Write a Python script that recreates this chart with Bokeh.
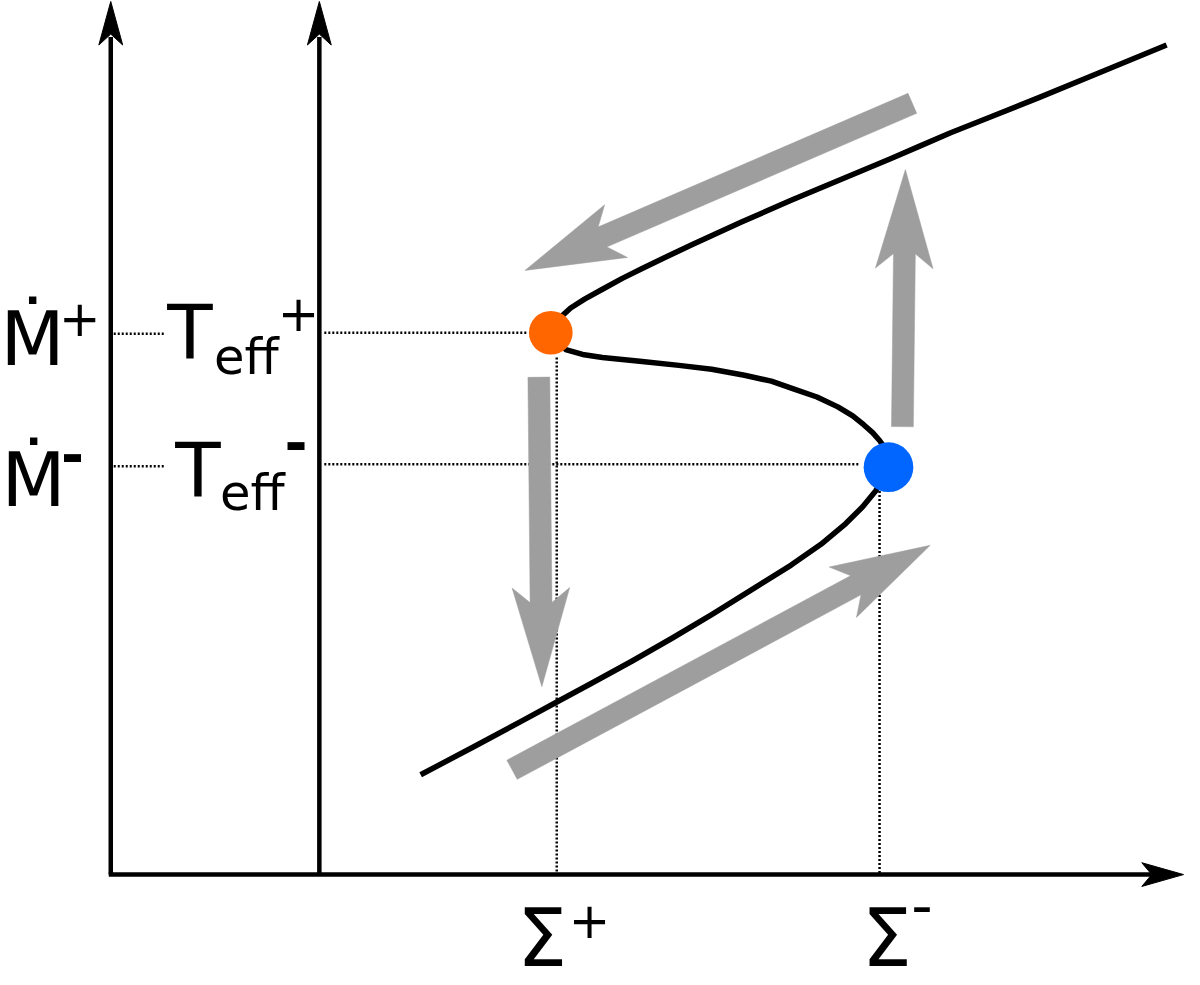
import numpy as np
from bokeh.plotting import figure
from bokeh.models import Range1d
from bokeh.core.properties import value
from bokeh.embed import file_html
from bokeh.resources import INLINE

# ---------------- data (schematic units; 1 unit = 1 px of the reference) -------------
# S-curve (thermal equilibrium curve), from lower-left end to upper-right end
curve_x = [427, 480, 530, 565, 600, 640, 680, 720, 760, 800, 830, 855, 872, 885, 893, 897, 898,
           897, 894, 889, 882, 873, 862, 847, 826, 803, 780, 753, 720, 687, 650, 610, 590, 573, 558,
           566, 578, 592, 610, 630, 650, 675, 700, 750, 800, 850, 900, 930, 960, 1005, 1050, 1120, 1178]
curve_y = [787, 759, 732, 713, 694, 672, 649, 625, 600, 575, 554, 533, 516, 500, 487, 478, 470,
           463, 456, 449, 441, 433, 424, 415, 405, 397, 389, 383, 377, 373, 369, 365, 362, 357, 340,
           326, 315, 306, 296, 285, 275, 263, 251, 228, 206, 185, 164, 151, 138, 120, 102, 73, 49]

# critical points (upper: orange, lower: blue)
crit_x = [558, 898]
crit_y = [340, 476]
crit_r = [22, 25]
crit_color = ["#ff6600", "#0066ff"]

# grey transition arrows: tail -> tip
arr_tail_x = [546, 912, 922, 519]
arr_tail_y = [385, 435, 108, 782]
arr_tip_x = [549, 915, 532, 940]
arr_tip_y = [698, 175, 277, 555]

# axes: two vertical axes (M-dot and T_eff) and the Sigma axis
vaxis_x = [115, 325]
axis_bottom = 888
axis_top = 5
haxis_left = 115
haxis_right = 1195

# dotted guide lines
guide_x0 = [118, 330, 118, 330, 564, 889]
guide_x1 = [170, 535, 170, 868, 564, 889]
guide_y0 = [341, 340, 475, 473, 365, 500]
guide_y1 = [341, 340, 475, 473, 888, 888]

# label texts: (x, baseline y, text, size, bold)
labels = [
    (4, 370, "\u1E40", 75, False),
    (63, 341, "+", 50, False),
    (5, 513, "\u1E40", 75, False),
    (65, 480, "-", 56, True),
    (172, 363, "T", 75, False),
    (219, 380, "eff", 50, False),
    (283, 336, "+", 50, False),
    (180, 503, "T", 75, False),
    (225, 518, "eff", 50, False),
    (290, 468, "-", 56, True),
    (524, 977, "\u03A3", 80, False),
    (576, 949, "+", 50, False),
    (871, 977, "\u03A3", 80, False),
    (921, 937, "-", 60, False),
]

# ---------------- figure ----------------
X0, X1 = 4, 1196
Y0, Y1 = 4, 984
W, H = 1184, 969
S = 0.5 * (W / (X1 - X0) + H / (Y1 - Y0))  # px per schematic unit
p = figure(width=W, height=H, output_backend="svg", toolbar_location=None,
           x_range=Range1d(X0, X1), y_range=Range1d(Y1, Y0),
           min_border=0)
p.axis.visible = False
p.grid.visible = False
p.outline_line_color = None
p.background_fill_color = "white"
p.border_fill_color = "white"

# axes lines
for xv in vaxis_x:
    p.line([xv, xv], [axis_bottom, axis_top + 36], line_color="black", line_width=4.5)
p.line([haxis_left - 2, haxis_right - 32], [axis_bottom, axis_bottom], line_color="black", line_width=4.5)

# axes arrowheads
hx, hy = [], []
for xv in vaxis_x:
    tip = axis_top
    hx.append([xv, xv + 12, xv, xv - 12])
    hy.append([tip, tip + 44, tip + 33, tip + 44])
tipx = haxis_right
hx.append([tipx, tipx - 42, tipx - 32, tipx - 42])
hy.append([axis_bottom, axis_bottom - 12, axis_bottom, axis_bottom + 12])
p.patches(hx, hy, fill_color="black", line_color="black", line_width=1)

# dotted guides
p.segment(guide_x0, guide_y0, guide_x1, guide_y1, line_color="black",
          line_width=2.5, line_dash="2 2")

# grey arrows
GREY = "#9e9e9e"
shaft_w, head_len, head_hw, notch = 22, 100, 29, 76
sx, sy, ax, ay = [], [], [], []
for tx, ty, px_, py_ in zip(arr_tail_x, arr_tail_y, arr_tip_x, arr_tip_y):
    d = np.array([px_ - tx, py_ - ty], dtype=float)
    L = np.hypot(*d)
    u = d / L
    n = np.array([-u[1], u[0]])
    tail = np.array([tx, ty], dtype=float)
    tip = np.array([px_, py_], dtype=float)
    nb = tip - u * (notch - 2)
    pts = [tail + n * shaft_w / 2, nb + n * shaft_w / 2, nb - n * shaft_w / 2, tail - n * shaft_w / 2]
    sx.append([q[0] for q in pts]); sy.append([q[1] for q in pts])
    b = tip - u * head_len
    hp = [tip, b + n * head_hw, tip - u * notch, b - n * head_hw]
    ax.append([q[0] for q in hp]); ay.append([q[1] for q in hp])
p.patches(sx, sy, fill_color=GREY, line_color=GREY, line_width=0.5)
p.patches(ax, ay, fill_color=GREY, line_color=GREY, line_width=0.5)

# S-curve
p.line(curve_x, curve_y, line_color="black", line_width=5.5, line_join="round", line_cap="butt")

# critical points
p.circle(crit_x, crit_y, radius=crit_r, fill_color=crit_color, line_color=None)

# ---------------- labels ----------------
FONT = value("DejaVu Sans")
BASE_SHIFT = 0.31  # em; compensates the renderer's baseline placement

for x, y, s, size, bold in labels:
    p.text([x], [y - BASE_SHIFT * size], text=[s], text_font=FONT,
           text_font_size=value(f"{size * S:.1f}px"),
           text_color="black", text_align="left", text_baseline="alphabetic",
           text_font_style="bold" if bold else "normal")

open("out.html", "w").write(file_html(p, INLINE))
